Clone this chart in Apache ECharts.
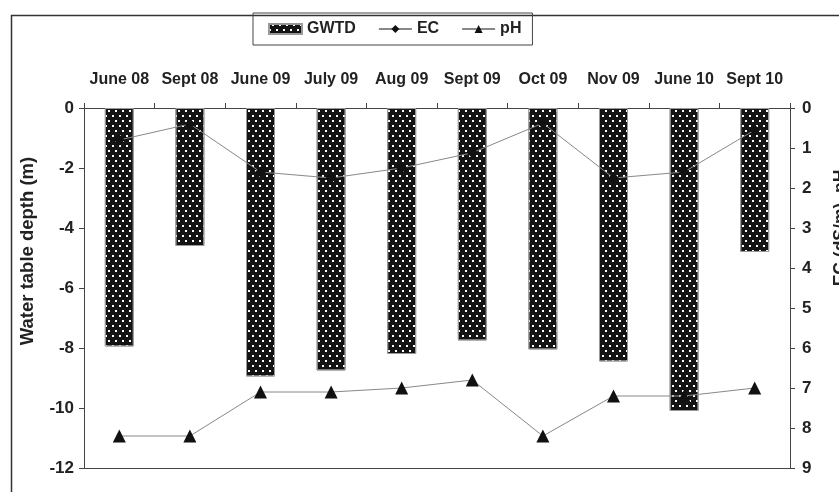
<!DOCTYPE html>
<html><head><meta charset="utf-8">
<script src="https://cdn.jsdelivr.net/npm/echarts@6/dist/echarts.min.js"></script>
<style>html,body{margin:0;padding:0;background:#fff}#c{width:839px;height:492px}</style>
</head><body><div id="c"></div>
<script>
const categories = ['June 08','Sept 08','June 09','July 09','Aug 09','Sept 09','Oct 09','Nov 09','June 10','Sept 10'];
const gwtd = [-7.95,-4.6,-8.95,-8.75,-8.2,-7.75,-8.05,-8.45,-10.1,-4.8];
const ec = [0.8,0.4,1.6,1.75,1.5,1.12,0.38,1.75,1.6,0.55];
const ph = [8.2,8.2,7.1,7.1,7.0,6.8,8.2,7.2,7.2,7.0];
const leftTicks = {min:-12,max:0,interval:2};
const rightTicks = {min:0,max:9,interval:1};

const FONT = "'Liberation Sans',Arial,sans-serif";
const txt = {fontFamily:FONT,fontWeight:'bold',fontSize:16,color:'#222'};
const chart = echarts.init(document.getElementById('c'));
chart.setOption({
  animation:false,
  backgroundColor:'#fff',
  grid:{left:84,right:49,top:108,bottom:24,containLabel:false},
  legend:{
    left:253,top:13,
    data:[{name:'GWTD',icon:'rect'},'EC','pH'],
    borderColor:'#444',borderWidth:1,borderRadius:0,
    padding:[8,11,8,15],
    itemGap:22,itemWidth:33,itemHeight:10,
    textStyle:Object.assign({},txt,{fontSize:16})
  },
  xAxis:[{
    type:'category',data:categories,position:'top',
    axisLine:{show:true,onZero:false,lineStyle:{color:'#444',width:1}},
    axisTick:{show:true,inside:false,length:5,lineStyle:{color:'#444'}},
    axisLabel:Object.assign({},txt,{margin:20,interval:0}),
    splitLine:{show:false}
  },{
    type:'category',data:categories,position:'bottom',
    axisLine:{show:true,onZero:false,lineStyle:{color:'#444',width:1}},
    axisTick:{show:false},axisLabel:{show:false},splitLine:{show:false}
  }],
  yAxis:[{
    type:'value',min:leftTicks.min,max:leftTicks.max,interval:leftTicks.interval,
    position:'left',
    axisLine:{show:true,onZero:false,lineStyle:{color:'#444',width:1}},
    axisTick:{show:true,length:5,lineStyle:{color:'#444'}},
    axisLabel:Object.assign({},txt,{margin:10,fontSize:17}),
    splitLine:{show:false}
  },{
    type:'value',min:rightTicks.min,max:rightTicks.max,interval:rightTicks.interval,
    inverse:true,position:'right',
    axisLine:{show:true,onZero:false,lineStyle:{color:'#444',width:1}},
    axisTick:{show:true,length:5,lineStyle:{color:'#444'}},
    axisLabel:Object.assign({},txt,{margin:12,fontSize:17}),
    splitLine:{show:false}
  }],
  graphic:[
    {type:'rect',left:9,top:13,shape:{x:0,y:0,width:900,height:600},
     style:{fill:'none',stroke:'#333',lineWidth:1.5},silent:true,z:-1},
    {type:'text',x:28,y:251,rotation:Math.PI/2,
     style:{text:'Water table depth (m)',fontFamily:FONT,fontWeight:'bold',fontSize:18.5,fill:'#222',align:'center',verticalAlign:'middle'}},
    {type:'text',x:841,y:228,rotation:Math.PI/2,
     style:{text:'EC (dS/m), pH',fontFamily:FONT,fontWeight:'bold',fontSize:17.5,fill:'#222',align:'center',verticalAlign:'middle'}}
  ],
  series:[{
    name:'GWTD',type:'bar',data:gwtd,xAxisIndex:0,yAxisIndex:0,barWidth:29,
    itemStyle:{color:'#141414',borderColor:'#999',borderWidth:1,
      decal:{symbol:'rect',symbolSize:1,color:'#fff',dashArrayX:[[2,5],[0,3,2,2]],dashArrayY:[2,3],rotation:0}}
  },{
    name:'EC',type:'line',data:ec,xAxisIndex:0,yAxisIndex:1,
    symbol:'diamond',symbolSize:11,
    lineStyle:{color:'#888',width:1},itemStyle:{color:'#111'},z:3
  },{
    name:'pH',type:'line',data:ph,xAxisIndex:0,yAxisIndex:1,
    symbol:'triangle',symbolSize:13,
    lineStyle:{color:'#888',width:1},itemStyle:{color:'#111'},z:3
  }]
});
</script></body></html>
